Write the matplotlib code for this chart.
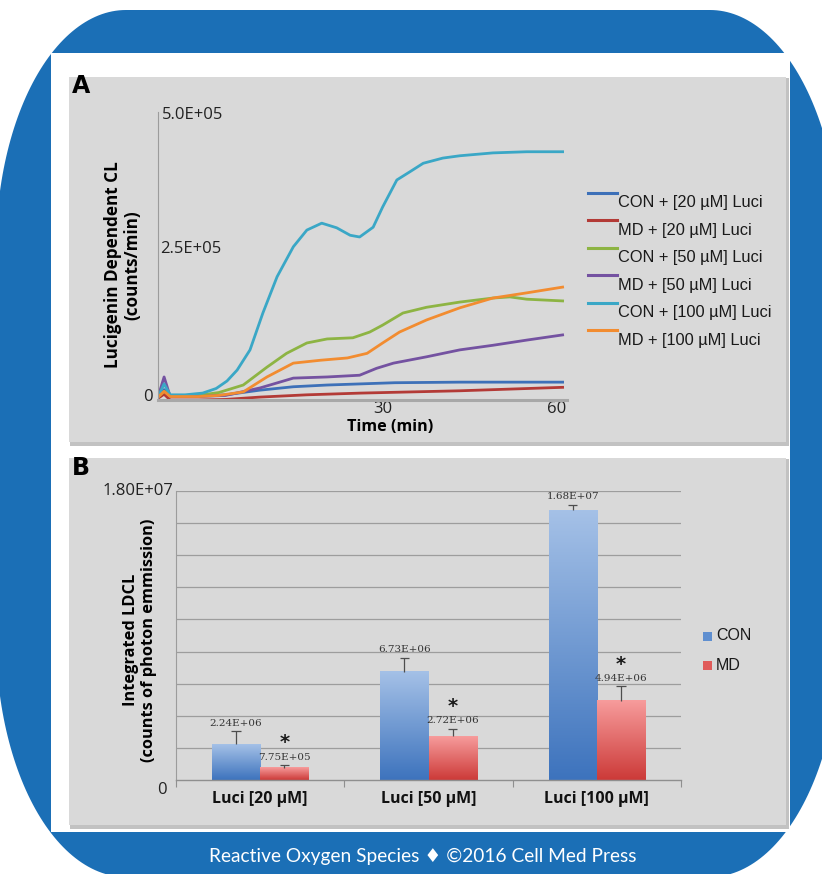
import numpy as np
import matplotlib
matplotlib.use('Agg')
import matplotlib.pyplot as plt
from matplotlib.patches import Polygon, Rectangle
from matplotlib.lines import Line2D
from matplotlib.colors import LinearSegmentedColormap
import matplotlib.transforms as mtrans

W, H = 822, 874

# ---- panel A: lucigenin dependent CL time courses (min, counts/min) ----
series_a = ['CON + [20 µM] Luci', 'MD + [20 µM] Luci', 'CON + [50 µM] Luci',
            'MD + [50 µM] Luci', 'CON + [100 µM] Luci', 'MD + [100 µM] Luci']
colors_a = ['#3d70b8', '#b33a36', '#8db443', '#7452a1', '#3aa7c6', '#f28c30']

t_con20 = [0, 0.9, 1.8, 6, 10, 15, 20, 25, 30, 35, 44.6, 59.8]
cl_con20 = [5e3, 18e3, 7e3, 7e3, 9e3, 17e3, 23e3, 26e3, 28e3, 30e3, 31e3, 31e3]

t_md20 = [0, 0.9, 1.8, 6, 10, 15, 22, 30, 44.6, 59.8]
cl_md20 = [3e3, 10e3, 0, 0, 1e3, 5e3, 9e3, 12e3, 16e3, 22e3]

t_con50 = [0, 0.9, 1.8, 6, 9, 12.6, 16.1, 19, 22, 25, 28.8, 31.3, 33.2, 36.2,
           39.7, 44.6, 49.5, 52, 54.5, 59.8]
cl_con50 = [5e3, 15e3, 8e3, 8e3, 13e3, 26e3, 57e3, 81e3, 99e3, 106e3, 108e3, 118e3,
            130e3, 151e3, 161e3, 170e3, 177e3, 179e3, 175e3, 172e3]

t_md50 = [0, 0.9, 1.8, 6, 10, 15.1, 20, 25, 29.8, 32.3, 34.8, 39.7, 44.6, 49.5, 54.5, 59.8]
cl_md50 = [5e3, 40e3, 6e3, 6e3, 8e3, 21e3, 38e3, 40e3, 43e3, 55e3, 64e3, 75e3, 87e3,
           95e3, 104e3, 113e3]

t_con100 = [0, 0.9, 1.8, 4, 6.6, 8.6, 10.2, 11.7, 13.6, 15.5, 17.6, 20, 22, 24.2, 26.4,
            28.4, 29.8, 31.8, 33.2, 35.3, 37.2, 39.2, 42.1, 44.6, 49.5, 54.5, 59.8]
cl_con100 = [5e3, 28e3, 9e3, 9e3, 12e3, 20e3, 33e3, 52e3, 87e3, 151e3, 214e3, 266e3,
             295e3, 307e3, 299e3, 286e3, 283e3, 300e3, 335e3, 382e3, 396e3, 411e3,
             420e3, 424e3, 429e3, 431e3, 431e3]

t_md100 = [0, 0.9, 1.8, 6, 9, 12.6, 16.1, 20, 24, 28, 30.9, 33.2, 35.7, 39.7, 44.6,
           49.5, 54.5, 59.8]
cl_md100 = [5e3, 15e3, 6e3, 6e3, 8e3, 14e3, 40e3, 64e3, 69e3, 73e3, 81e3, 99e3, 118e3,
            139e3, 160e3, 177e3, 186e3, 196e3]

times_a = [t_con20, t_md20, t_con50, t_md50, t_con100, t_md100]
values_a = [cl_con20, cl_md20, cl_con50, cl_md50, cl_con100, cl_md100]

# ---- panel B: integrated LDCL ----
groups_b = ['Luci [20 µM]', 'Luci [50 µM]', 'Luci [100 µM]']
con_vals = [2.24e6, 6.73e6, 1.68e7]
md_vals = [7.75e5, 2.72e6, 4.94e6]
con_err = [0.81e6, 0.89e6, 0.33e6]
md_err = [0.16e6, 0.46e6, 0.91e6]

blue = '#1b6fb6'
panel_gray = '#d9d9d9'
num_font = 'Open Sans'
lab_font = 'Open Sans'
leg_font = 'Liberation Sans'


def blob(x0, x1, y0, y1, a, b, n=60):
    th = np.linspace(0, np.pi / 2, n)
    tr = np.c_[x1 - a + a * np.sin(th), y0 + b - b * np.cos(th)]
    br = np.c_[x1 - a + a * np.cos(th), y1 - b + b * np.sin(th)]
    bl = np.c_[x0 + a - a * np.sin(th), y1 - b + b * np.cos(th)]
    tl = np.c_[x0 + a - a * np.cos(th), y0 + b - b * np.sin(th)]
    return np.vstack([tr, br, bl, tl])


fig = plt.figure(figsize=(W / 100, H / 100), dpi=100)
fig.set_facecolor('white')

bg = fig.add_axes([0, 0, 1, 1], zorder=-5)
bg.set_xlim(0, W)
bg.set_ylim(H, 0)
bg.axis('off')

bg.add_patch(Polygon(blob(-4, 840, 10, 877, 130, 240), closed=True, facecolor=blue, edgecolor='none'))
bg.add_patch(Rectangle((51, 53), 739, 779, facecolor='white', edgecolor='none'))
for (x, y, w, h) in [(69, 77, 717, 365), (69, 458, 717, 367)]:
    bg.add_patch(Rectangle((x + 1, y + 1), w + 1.5, h + 2.5, facecolor='#c2c2c2', edgecolor='none'))
    bg.add_patch(Rectangle((x, y), w, h, facecolor=panel_gray, edgecolor='none'))

bg.text(72, 86, 'A', fontsize=17, fontweight='heavy', family='DejaVu Sans', va='center', ha='left')
bg.text(72, 468, 'B', fontsize=17, fontweight='heavy', family='DejaVu Sans', va='center', ha='left')
bg.text(423, 856, 'Reactive Oxygen Species \u2666 \u00a92016 Cell Med Press', color='white',
        fontsize=13.8, family=['Lato', 'DejaVu Sans'], ha='center', va='center')

# ---------------- panel A ----------------
axA = fig.add_axes([158 / W, 1 - 400 / H, 409 / W, 288 / H])
axA.set_facecolor('none')
for t, v, c in zip(times_a, values_a, colors_a):
    axA.plot(t, v, color=c, lw=2.0, solid_joinstyle='round')
axA.set_xlim(0, 60.45)
axA.set_ylim(0, 5e5)
for s in ['top', 'right']:
    axA.spines[s].set_visible(False)
axA.spines['left'].set_color('#9c9c9c')
axA.spines['left'].set_linewidth(0.8)
axA.spines['bottom'].set_color('#a8a8a8')
axA.spines['bottom'].set_linewidth(2.2)
axA.set_yticks([])
# the original puts its category labels a little right of the true minutes
axA.set_xticks([33.2, 58.9])
axA.set_xticklabels(['30', '60'], fontsize=12, family=num_font, color='#222222')
axA.tick_params(axis='x', length=0, pad=1)
ytr = mtrans.blended_transform_factory(axA.transAxes, axA.transData)
axA.annotate('5.0E+05', (0, 5e5), xycoords=ytr, xytext=(3, -2), textcoords='offset points',
             fontsize=12, family=num_font, ha='left', va='center', color='#222222')
axA.annotate('2.5E+05', (0, 2.5e5), xycoords=ytr, xytext=(1.5, 5), textcoords='offset points',
             fontsize=12, family=num_font, ha='left', va='center', color='#222222')
axA.annotate('0', (0, 0), xycoords=ytr, xytext=(-4, 2), textcoords='offset points',
             fontsize=12, family=num_font, ha='right', va='center', color='#222222')

bg.text(123, 265, 'Lucigenin Dependent CL\n(counts/min)', rotation=90, fontsize=12.3,
        fontweight='bold', family=lab_font, ha='center', va='center', multialignment='center',
        linespacing=1.1)
bg.text(390, 427, 'Time (min)', fontsize=11.6, fontweight='bold', family=lab_font,
        ha='center', va='center')

for k, (lab, c) in enumerate(zip(series_a, colors_a)):
    y = 193 + 27.4 * k
    bg.add_line(Line2D([588, 617], [y, y], color=c, lw=2.2))
    bg.text(618, y + 10, lab, fontsize=11.8, family=leg_font, ha='left', va='center', color='#1a1a1a')

# ---------------- panel B ----------------
axB = fig.add_axes([176 / W, 1 - 780 / H, 505 / W, 289 / H])
axB.set_facecolor('none')
x = np.arange(len(groups_b))
bw = 0.286
for lvl in np.arange(2e6, 1.81e7, 2e6):
    axB.axhline(lvl, color='#9d9d9d', lw=0.9, zorder=1)

cmap_con = LinearSegmentedColormap.from_list('con', ['#3d73bd', '#a5c1e7'])
cmap_md = LinearSegmentedColormap.from_list('md', ['#cc3a38', '#f79c9c'])
grad = np.linspace(0, 1, 256).reshape(-1, 1)

bars_con = axB.bar(x - bw / 2, con_vals, bw, color='none', zorder=2)
bars_md = axB.bar(x + bw / 2, md_vals, bw, color='none', zorder=2)
for bars, cm in [(bars_con, cmap_con), (bars_md, cmap_md)]:
    for b in bars:
        x0, w, h = b.get_x(), b.get_width(), b.get_height()
        axB.imshow(grad, extent=[x0, x0 + w, 0, h], origin='lower', aspect='auto',
                   cmap=cm, zorder=2)

for xs, vals, errs, star in [(x - bw / 2, con_vals, con_err, False),
                              (x + bw / 2, md_vals, md_err, True)]:
    tops = np.array(vals) + np.array(errs)
    axB.vlines(xs, vals, tops, color='#4d4d4d', lw=0.9, zorder=3)
    axB.hlines(tops, xs - 0.028, xs + 0.028, color='#4d4d4d', lw=0.9, zorder=3)
    for xi, v, tp in zip(xs, vals, tops):
        axB.annotate(f'{v:.2E}', (xi, tp), xytext=(0, 2.5), textcoords='offset points',
                     ha='center', va='bottom', fontsize=7.5, family='DejaVu Serif',
                     color='#333333', zorder=4)
        if star:
            axB.annotate('*', (xi, tp), xytext=(0, 9), textcoords='offset points',
                         ha='center', va='bottom', fontsize=14, fontweight='bold',
                         family='DejaVu Sans', color='#1a1a1a', zorder=4)

axB.set_xlim(-0.5, 2.5)
axB.set_ylim(0, 1.8e7)
for s in ['top', 'right']:
    axB.spines[s].set_visible(False)
axB.spines['left'].set_color('#9c9c9c')
axB.spines['left'].set_linewidth(0.8)
axB.spines['bottom'].set_color('#8f8f8f')
axB.spines['bottom'].set_linewidth(1.0)
axB.set_yticks([])
axB.set_xticks(x)
axB.set_xticklabels(groups_b, fontsize=11.5, fontweight='bold', family=lab_font, color='#111111')
axB.set_xticks([-0.5, 0.5, 1.5, 2.5], minor=True)
axB.tick_params(axis='x', which='major', length=0, pad=8)
axB.tick_params(axis='x', which='minor', length=5, width=0.8, color='#8f8f8f')
ytrB = mtrans.blended_transform_factory(axB.transAxes, axB.transData)
axB.annotate('1.80E+07', (0, 1.8e7), xycoords=ytrB, xytext=(-2, 0), textcoords='offset points',
             fontsize=12, family=num_font, ha='right', va='center', color='#222222')
axB.annotate('0', (0, 0), xycoords=ytrB, xytext=(-7, -7), textcoords='offset points',
             fontsize=12, family=num_font, ha='right', va='center', color='#222222')

bg.text(140, 640, 'Integrated LDCL\n(counts of photon emmission)', rotation=90, fontsize=11.8,
        fontweight='bold', family=lab_font, ha='center', va='center', multialignment='center',
        linespacing=1.1)

for k, (lab, c) in enumerate([('CON', '#5f8fd0'), ('MD', '#e05b5a')]):
    y = 636 + 29 * k
    bg.add_patch(Rectangle((703, y - 4.5), 9, 9, facecolor=c, edgecolor='none'))
    bg.text(716, y, lab, fontsize=11.5, family=leg_font, ha='left', va='center', color='#1a1a1a')

fig.savefig('out.png', dpi=100)
